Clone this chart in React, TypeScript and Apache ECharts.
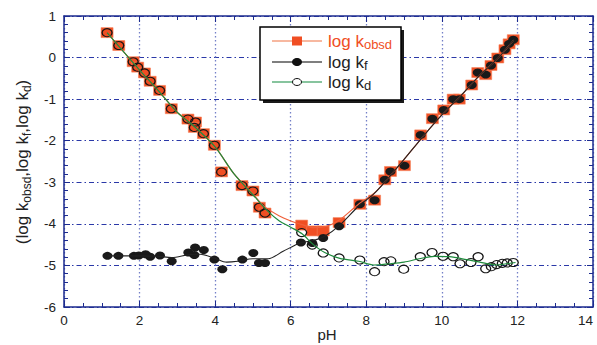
import React, { useEffect, useRef } from "react";
import * as echarts from "echarts";

// measured points
const obsdPH = [1.14, 1.45, 1.83, 1.95, 2.13, 2.28, 2.53, 2.84, 3.28, 3.48, 3.45, 3.69, 3.98, 4.17, 4.71, 5.0, 5.17, 5.32,
  6.29, 6.58, 6.86, 7.28, 7.83, 8.22, 8.49, 8.64, 9.01, 9.44, 9.75, 10.05, 10.3, 10.46, 10.79, 10.95, 11.16, 11.3, 11.48, 11.67, 11.78, 11.89];
const obsdLog = [0.6, 0.29, -0.1, -0.23, -0.37, -0.57, -0.79, -1.23, -1.48, -1.55, -1.68, -1.83, -2.11, -2.75, -3.08, -3.21, -3.6, -3.74,
  -4.03, -4.17, -4.17, -3.97, -3.53, -3.43, -2.94, -2.74, -2.6, -1.86, -1.47, -1.26, -1.0, -1.0, -0.66, -0.36, -0.41, -0.19, -0.01, 0.19, 0.33, 0.43];

const kfPH = [1.15, 1.44, 1.85, 1.98, 2.16, 2.28, 2.54, 2.85, 3.29, 3.47, 3.45, 3.7, 3.98, 4.19, 4.72, 5.01, 5.16, 5.32,
  6.27, 6.57, 6.86, 7.28, 7.83, 8.22, 8.49, 8.64, 9.01, 9.44, 9.75, 10.05, 10.3, 10.46, 10.79, 10.95, 11.16, 11.3, 11.48, 11.67, 11.78, 11.89];
const kfLog = [-4.77, -4.77, -4.77, -4.76, -4.73, -4.79, -4.76, -4.9, -4.69, -4.57, -4.75, -4.63, -4.86, -5.09, -4.86, -4.7, -4.94, -4.94,
  -4.45, -4.46, -4.34, -4.06, -3.53, -3.43, -2.94, -2.74, -2.6, -1.86, -1.47, -1.26, -1.0, -1.0, -0.66, -0.36, -0.41, -0.19, -0.01, 0.19, 0.33, 0.43];

const kdPH = [1.14, 1.45, 1.83, 1.95, 2.13, 2.28, 2.53, 2.84, 3.28, 3.48, 3.45, 3.69, 3.98, 4.17, 4.71, 5.0, 5.17, 5.32,
  6.29, 6.57, 6.86, 7.28, 7.83, 8.22, 8.47, 8.65, 8.99, 9.43, 9.74, 10.03, 10.3, 10.48, 10.77, 10.96, 11.16, 11.31, 11.45, 11.6, 11.73, 11.89];
const kdLog = [0.6, 0.29, -0.1, -0.23, -0.37, -0.57, -0.79, -1.23, -1.48, -1.55, -1.68, -1.83, -2.11, -2.75, -3.08, -3.21, -3.6, -3.74,
  -4.21, -4.51, -4.7, -4.82, -4.87, -5.15, -4.91, -4.89, -5.09, -4.79, -4.69, -4.78, -4.79, -4.96, -4.93, -4.79, -5.08, -5.03, -4.98, -4.95, -4.94, -4.93];

// fitted curves
const kdFitPH = [1.14, 1.5, 2, 2.5, 3, 3.5, 4, 4.5, 5, 5.4, 5.7, 6, 6.3, 6.6, 6.9, 7.3, 7.8, 8.2, 8.6, 9, 9.4, 9.8, 10.2, 10.65, 11.1, 11.45, 11.7, 11.95];
const kdFitLog = [0.6, 0.22, -0.3, -0.8, -1.32, -1.7, -2.15, -2.8, -3.3, -3.7, -3.93, -4.08, -4.24, -4.5, -4.69, -4.83, -4.9, -4.99, -4.96, -4.92, -4.84, -4.78, -4.79, -4.86, -4.94, -4.99, -4.96, -4.93];

const obsdFitPH = [1.14, 1.5, 2, 2.5, 3, 3.5, 4, 4.5, 5, 5.3, 5.7, 6, 6.3, 6.6, 6.9, 7.3, 7.8, 8.2, 8.6, 9, 9.5, 10, 10.5, 11, 11.5, 11.9];
const obsdFitLog = [0.6, 0.22, -0.3, -0.8, -1.32, -1.7, -2.15, -2.8, -3.28, -3.58, -3.81, -3.93, -4.02, -4.09, -4.07, -3.9, -3.52, -3.27, -2.88, -2.45, -1.9, -1.38, -0.92, -0.43, 0.0, 0.42];

const kfFitPH = [1.15, 1.5, 2, 2.5, 2.85, 3.3, 3.6, 4.0, 4.3, 4.6, 5.0, 5.4, 5.8, 6.25, 6.6, 6.9, 7.3, 7.8, 8.2, 8.6, 9, 9.5, 10, 10.5, 11, 11.5, 11.9];
const kfFitLog = [-4.77, -4.77, -4.77, -4.78, -4.81, -4.74, -4.73, -4.83, -4.92, -4.9, -4.84, -4.84, -4.66, -4.46, -4.4, -4.3, -4.03, -3.57, -3.28, -2.88, -2.45, -1.9, -1.38, -0.92, -0.43, 0.0, 0.42];

const X_TITLE = "pH";

const FONT = "'Liberation Sans', Arial, Helvetica, sans-serif";
const AXIS = "#1c2b8f";
const ORANGE = "#f04e23";

const zip = (xs: number[], ys: number[]) => xs.map((x, i) => [x, ys[i]]);

export default function App() {
  const ref = useRef<HTMLDivElement>(null);
  useEffect(() => {
    if (!ref.current) return;
    const chart = echarts.init(ref.current, undefined, { renderer: "svg" });
    const baseX = {
      type: "value" as const,
      min: 0,
      max: 14,
      interval: 2,
      axisLine: { show: true, onZero: false, lineStyle: { color: AXIS, width: 1.5 } },
      axisTick: { show: true, inside: true, length: 6, lineStyle: { color: AXIS, width: 1 } },
      minorTick: { show: true, splitNumber: 4, length: 4, lineStyle: { color: AXIS, width: 1 } },
    };
    const baseY = {
      type: "value" as const,
      min: -6,
      max: 1,
      interval: 1,
      axisLine: { show: true, onZero: false, lineStyle: { color: AXIS, width: 1.5 } },
      axisTick: { show: true, inside: true, length: 6, lineStyle: { color: AXIS, width: 1 } },
      minorTick: { show: true, splitNumber: 5, length: 4, lineStyle: { color: AXIS, width: 1 } },
    };
    chart.setOption({
      animation: false,
      backgroundColor: "#ffffff",
      grid: { left: 64, top: 16, width: 529, height: 291, containLabel: false, outerBoundsMode: "none" },
      xAxis: [
        {
          ...baseX,
          position: "bottom",
          splitLine: { show: true, lineStyle: { color: "#7480c8", type: [1.5, 2.5], width: 1.3 } },
          axisLabel: { color: "#222", fontSize: 13.5, margin: 6, fontFamily: FONT, alignMaxLabel: "right" },
        },
        { ...baseX, position: "top", splitLine: { show: false }, axisLabel: { show: false } },
      ],
      yAxis: [
        {
          ...baseY,
          position: "left",
          splitLine: { show: true, lineStyle: { color: "#2a38a8", type: [5, 3, 1.5, 3], width: 1 } },
          axisLabel: { color: "#222", fontSize: 13.5, margin: 8, fontFamily: FONT },
        },
        { ...baseY, position: "right", splitLine: { show: false }, axisLabel: { show: false } },
      ],
      series: [
        {
          type: "line", data: zip(obsdFitPH, obsdFitLog), symbol: "none", smooth: 0.3,
          lineStyle: { color: "#f0603a", width: 1.2 }, silent: true,
        },
        {
          type: "line", data: zip(kfFitPH, kfFitLog), symbol: "none", smooth: 0.3,
          lineStyle: { color: "#222", width: 1.1 }, silent: true,
        },
        {
          type: "line", data: zip(kdFitPH, kdFitLog), symbol: "none", smooth: 0.3,
          lineStyle: { color: "#1e8a3c", width: 1.2 }, silent: true,
        },
        {
          type: "scatter", data: zip(obsdPH, obsdLog), symbol: "rect", symbolSize: [12, 10],
          itemStyle: { color: ORANGE, borderColor: "#f5825a", borderWidth: 0.6, opacity: 1 },
        },
        {
          type: "scatter", data: zip(kfPH, kfLog), symbol: "circle", symbolSize: [10, 8],
          itemStyle: { color: "#1a1a1a", opacity: 1 },
        },
        {
          type: "scatter", data: zip(kdPH, kdLog), symbol: "circle", symbolSize: [10, 8],
          itemStyle: { color: "transparent", borderColor: "#151515", borderWidth: 1.2, opacity: 1 },
        },
      ],
      graphic: [
        {
          type: "text", x: 327, y: 334, z: 20,
          style: { text: X_TITLE, align: "center", verticalAlign: "middle", fontSize: 15, fontFamily: FONT, fill: "#222" },
        },
        {
          type: "text", x: 22, y: 162, rotation: Math.PI / 2, z: 20,
          style: {
            text: "{a|(log k}{s|obsd}{a|,log k}{s|f}{a|,log k}{s|d}{a|)}",
            align: "center", verticalAlign: "middle",
            rich: {
              a: { fontSize: 17, fontFamily: FONT, fill: "#222", lineHeight: 22, verticalAlign: "middle" },
              s: { fontSize: 12, fontFamily: FONT, fill: "#222", lineHeight: 14, verticalAlign: "bottom" },
            },
          },
        },
        { type: "rect", z: 20, shape: { x: 263, y: 30, width: 141, height: 73 }, style: { fill: "#1a1a1a" } },
        { type: "rect", z: 21, shape: { x: 260, y: 27, width: 141, height: 73 }, style: { fill: "#fff", stroke: "#000", lineWidth: 1.5 } },
        { type: "line", z: 22, shape: { x1: 272, y1: 41, x2: 322, y2: 41 }, style: { stroke: "#f5a080", lineWidth: 1.5 } },
        { type: "rect", z: 23, shape: { x: 292, y: 36.5, width: 10, height: 9 }, style: { fill: ORANGE } },
        { type: "line", z: 22, shape: { x1: 272, y1: 62, x2: 322, y2: 62 }, style: { stroke: "#555", lineWidth: 1.5 } },
        { type: "ellipse", z: 23, shape: { cx: 297, cy: 62, rx: 5, ry: 4 }, style: { fill: "#111" } },
        { type: "line", z: 22, shape: { x1: 272, y1: 82, x2: 322, y2: 82 }, style: { stroke: "#5fb07e", lineWidth: 1.5 } },
        { type: "ellipse", z: 23, shape: { cx: 297, cy: 82, rx: 4.5, ry: 3.5 }, style: { fill: "#fff", stroke: "#111", lineWidth: 1 } },
        {
          type: "text", z: 23, x: 328, y: 41,
          style: {
            text: "{a|log k}{s|obsd}", verticalAlign: "middle",
            rich: {
              a: { fontSize: 17, fontFamily: FONT, fill: ORANGE, lineHeight: 20, verticalAlign: "middle" },
              s: { fontSize: 13, fontFamily: FONT, fill: ORANGE, lineHeight: 15, verticalAlign: "bottom" },
            },
          },
        },
        {
          type: "text", z: 23, x: 328, y: 62,
          style: {
            text: "{a|log k}{s|f}", verticalAlign: "middle",
            rich: {
              a: { fontSize: 17, fontFamily: FONT, fill: "#222", lineHeight: 20, verticalAlign: "middle" },
              s: { fontSize: 13, fontFamily: FONT, fill: "#222", lineHeight: 13, verticalAlign: "bottom" },
            },
          },
        },
        {
          type: "text", z: 23, x: 328, y: 82,
          style: {
            text: "{a|log k}{s|d}", verticalAlign: "middle",
            rich: {
              a: { fontSize: 17, fontFamily: FONT, fill: "#222", lineHeight: 20, verticalAlign: "middle" },
              s: { fontSize: 13, fontFamily: FONT, fill: "#222", lineHeight: 13, verticalAlign: "bottom" },
            },
          },
        },
      ],
    });
    return () => chart.dispose();
  }, []);
  return (
    <div
      ref={ref}
      style={{ position: "absolute", left: 0, top: 0, width: 597, height: 345, background: "#fff" }}
    />
  );
}
